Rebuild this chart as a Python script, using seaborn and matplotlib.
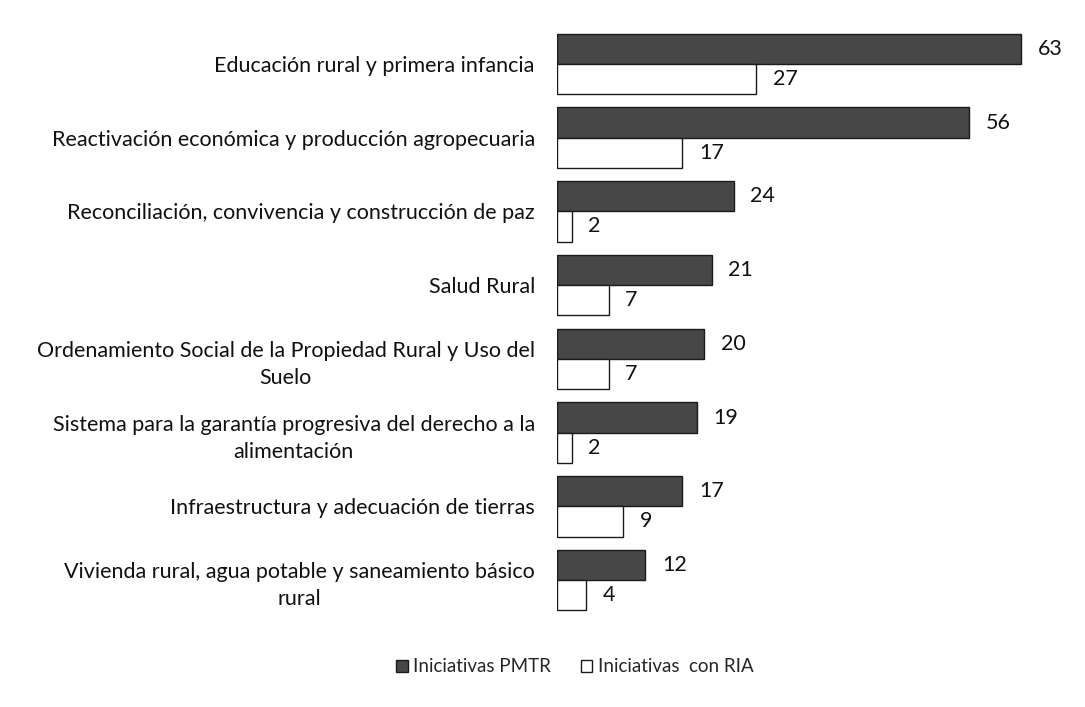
import matplotlib
matplotlib.use("Agg")
import matplotlib.pyplot as plt
import seaborn as sns
import pandas as pd
from matplotlib.patches import Patch

categories = [
    "Educación rural y primera infancia",
    "Reactivación económica y producción agropecuaria",
    "Reconciliación, convivencia y construcción de paz",
    "Salud Rural",
    "Ordenamiento Social de la Propiedad Rural y Uso del\nSuelo",
    "Sistema para la garantía progresiva del derecho a la\nalimentación",
    "Infraestructura y adecuación de tierras",
    "Vivienda rural, agua potable y saneamiento básico\nrural",
]
pmtr = [63, 56, 24, 21, 20, 19, 17, 12]
ria = [27, 17, 2, 7, 7, 2, 9, 4]
series_names = ["Iniciativas PMTR", "Iniciativas  con RIA"]

df = pd.DataFrame({
    "categoria": categories * 2,
    "valor": pmtr + ria,
    "serie": [series_names[0]] * len(categories) + [series_names[1]] * len(categories),
})

sns.set_theme(style="white")
plt.rcParams["font.family"] = ["Lato", "DejaVu Sans"]

fig = plt.figure(figsize=(10.85, 7.07), dpi=100)
ax = fig.add_axes([0.5134, 0.1273, 0.4616, 0.8345])

dark = "#474747"
palette = {series_names[0]: dark, series_names[1]: "#ffffff"}
sns.barplot(data=df, y="categoria", x="valor", hue="serie", orient="h",
            palette=palette, width=0.82, gap=0, edgecolor="#1a1a1a",
            linewidth=1.0, ax=ax, legend=False, saturation=1)

ax.set_xlim(0, 68)
ax.set_ylim(7.5, -0.5)
ax.set_xlabel("")
ax.set_ylabel("")
ax.set_xticks([])
for s in ax.spines.values():
    s.set_visible(False)
ax.tick_params(axis="y", length=0, pad=16, labelsize=15.5, labelcolor="#111111")
for lbl in ax.get_yticklabels():
    lbl.set_multialignment("center")
    lbl.set_linespacing(1.45)

for cont in ax.containers:
    ax.bar_label(cont, padding=12, fontsize=15.5, color="#111111")

handles = [Patch(facecolor=dark, edgecolor="#1a1a1a", label=series_names[0]),
           Patch(facecolor="#ffffff", edgecolor="#1a1a1a", label=series_names[1])]
fig.legend(handles=handles, loc="center", bbox_to_anchor=(0.53, 0.057), ncol=2,
           frameon=False, fontsize=13.5, handlelength=0.6, handleheight=0.6,
           handletextpad=0.3, columnspacing=1.6)

fig.savefig("out.png", dpi=100, facecolor="white")
